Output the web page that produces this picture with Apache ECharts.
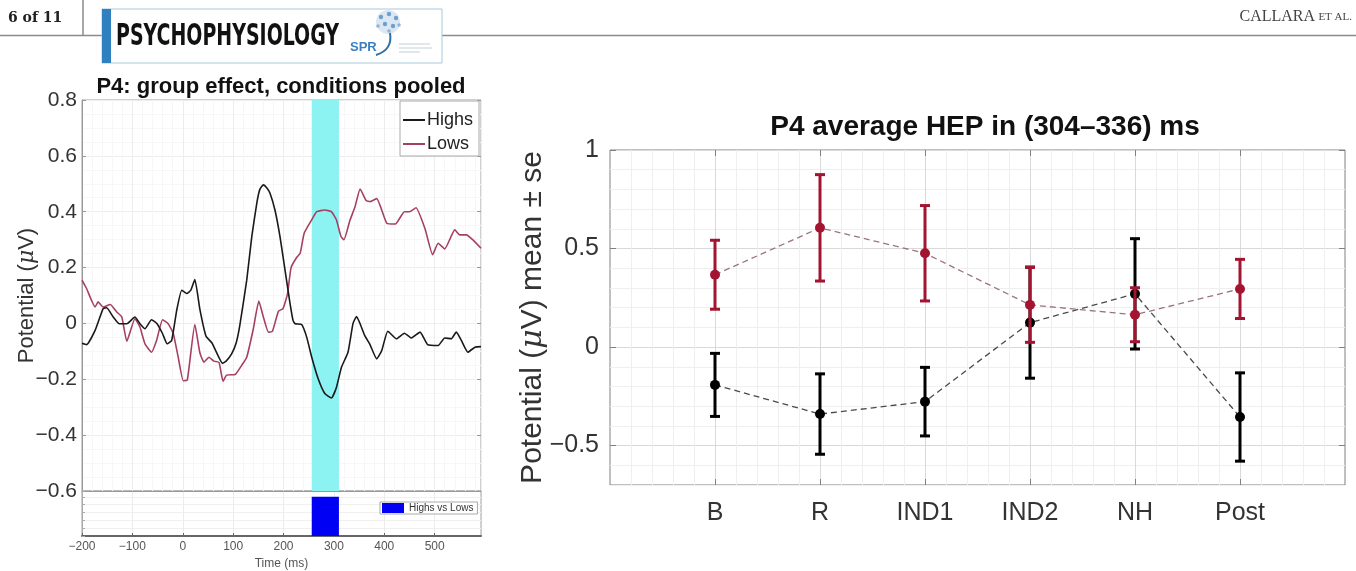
<!DOCTYPE html>
<html>
<head>
<meta charset="utf-8">
<script src="https://cdn.jsdelivr.net/npm/echarts@6.0.0/dist/echarts.min.js"></script>
<style>
  html, body { margin: 0; padding: 0; background: #fff; }
  #chart { width: 1356px; height: 571px; }
</style>
</head>
<body>
<div id="chart"></div>
<script>
// ---------------- data ----------------
// Left panel: grand-average HEP at P4 (µV), time in ms
const highsTime = [-200,-191,-174,-158,-151,-138,-126,-111,-95,-85,-75,-62,-51,-40,-31,-22,-12,-2,8,16,24,34,46,58,66,79,86,97,106,113,127,137,147,153,160,167,173,183,193,203,213,219,223,236,246,256,269,282,295,305,315,328,338,345,352,361,371,385,395,407,424,440,454,471,486,507,520,533,543,553,566,580,592];
const highsValue = [-0.071,-0.076,-0.025,0.053,0.056,0.023,-0.001,-0.001,0.023,-0.001,-0.019,0.013,-0.001,-0.037,-0.073,-0.061,0.047,0.119,0.107,0.119,0.157,0.050,-0.045,-0.070,-0.100,-0.143,-0.135,-0.109,-0.070,-0.010,0.155,0.311,0.431,0.480,0.496,0.485,0.467,0.406,0.311,0.191,0.071,0.010,-0.001,-0.004,-0.049,-0.121,-0.199,-0.251,-0.267,-0.229,-0.157,-0.103,0.000,0.025,-0.001,-0.043,-0.073,-0.127,-0.097,-0.028,-0.055,-0.035,-0.052,-0.031,-0.076,-0.079,-0.052,-0.055,-0.031,-0.061,-0.103,-0.085,-0.083];
const lowsTime = [-200,-191,-174,-168,-158,-144,-131,-121,-111,-95,-85,-75,-62,-52,-40,-29,-19,-9,1,9,24,34,42,52,62,72,80,87,104,117,127,140,151,160,170,178,190,199,208,215,226,233,241,256,266,282,295,305,314,320,332,342,352,364,372,385,405,422,440,450,463,481,496,507,520,540,550,563,576,592];
const lowsValue = [0.155,0.125,0.059,0.077,0.059,0.068,0.041,0.023,-0.064,0.017,-0.013,-0.073,-0.103,-0.061,0.013,-0.001,-0.035,-0.121,-0.205,-0.203,-0.004,-0.105,-0.139,-0.121,-0.135,-0.140,-0.207,-0.185,-0.183,-0.150,-0.121,-0.020,0.080,0.023,-0.031,-0.028,0.044,0.053,0.107,0.200,0.236,0.251,0.323,0.371,0.400,0.406,0.400,0.371,0.311,0.300,0.370,0.418,0.481,0.440,0.436,0.447,0.359,0.356,0.400,0.400,0.414,0.338,0.246,0.287,0.267,0.335,0.317,0.317,0.299,0.269];
const sigWindow = [256, 310];          // significant Highs vs Lows cluster (ms)
const timeTicks = [-200,-100,0,100,200,300,400,500];

// Right panel: P4 average HEP per condition (mean ± se)
const categories = ['B','R','IND1','IND2','NH','Post'];
const highsMean = [-0.192,-0.340,-0.277,0.124,0.270,-0.355];
const highsSe   = [0.160,0.204,0.174,0.282,0.280,0.224];
const lowsMean  = [0.367,0.605,0.476,0.214,0.164,0.295];
const lowsSe    = [0.175,0.270,0.242,0.190,0.137,0.150];
const rightYTicks = [-0.5,0,0.5,1];

// ---------------- helpers ----------------
const pairs = (t, v) => t.map((x, i) => [x, v[i]]);
const catPos = categories.map((c, i) => i + 1);
const fmtNum = v => { const r = Math.round(v * 10) / 10; return r === 0 ? '0' : String(r).replace('-', '\u2212'); };
const FONT = "'Liberation Sans', Arial, Helvetica, sans-serif";
const RED = '#a2142f';
const LOWS_LINE = '#a6405f';

function errorBarRender(color) {
  return function (params, api) {
    const x = api.value(0), lo = api.value(1), hi = api.value(2);
    const pLo = api.coord([x, lo]), pHi = api.coord([x, hi]);
    const cw = 5;
    const st = { stroke: color, lineWidth: 3 };
    return { type: 'group', children: [
      { type: 'line', shape: { x1: pLo[0], y1: pLo[1], x2: pHi[0], y2: pHi[1] }, style: st },
      { type: 'line', shape: { x1: pLo[0] - cw, y1: pLo[1], x2: pLo[0] + cw, y2: pLo[1] }, style: st },
      { type: 'line', shape: { x1: pHi[0] - cw, y1: pHi[1], x2: pHi[0] + cw, y2: pHi[1] }, style: st }
    ]};
  };
}

const chart = echarts.init(document.getElementById('chart'), null, { renderer: 'canvas' });

const option = {
  animation: false,
  backgroundColor: '#fff',
  textStyle: { fontFamily: FONT },
  grid: [
    { left: 82, top: 100, width: 399, height: 391, show: true, borderColor: '#a0a0a0', borderWidth: 1, backgroundColor: '#fff' },
    { left: 82, top: 491, width: 399, height: 47, show: true, borderColor: '#a0a0a0', borderWidth: 1, backgroundColor: '#fff' },
    { left: 610, top: 150, width: 735, height: 335, show: true, borderColor: '#808080', borderWidth: 1, backgroundColor: '#fff' }
  ],
  xAxis: [
    { // 0 left main
      type: 'value', gridIndex: 0, min: -200, max: 592, interval: 100, position: 'bottom',
      axisLine: { show: true, onZero: false, lineStyle: { color: '#999' } },
      axisTick: { show: false }, axisLabel: { show: false },
      splitLine: { show: true, lineStyle: { color: '#ededed', width: 1 } },
      minorTick: { show: false, splitNumber: 5 },
      minorSplitLine: { show: true, lineStyle: { color: '#f7f7f7', width: 1 } }
    },
    { // 1 strip
      type: 'value', gridIndex: 1, min: -200, max: 592, interval: 100, position: 'bottom',
      axisLine: { show: true, onZero: false, lineStyle: { color: '#666', width: 2 } },
      axisTick: { show: true, inside: true, length: 3, customValues: timeTicks, lineStyle: { color: '#666' } },
      axisLabel: { show: true, customValues: timeTicks, formatter: v => String(v).replace('-', '\u2212'), fontSize: 12, color: '#555', margin: 5 },
      splitLine: { show: true, lineStyle: { color: '#ececec' } },
      name: 'Time (ms)', nameLocation: 'middle', nameGap: 22, nameMoveOverlap: false,
      nameTextStyle: { fontSize: 12, color: '#555' }
    },
    { // 2 right main
      type: 'value', gridIndex: 2, min: 0, max: 7, interval: 1, position: 'bottom',
      axisLine: { show: false, onZero: false },
      axisTick: { show: true, inside: true, length: 6, customValues: catPos, lineStyle: { color: '#808080' } },
      axisLabel: { show: true, customValues: catPos, formatter: v => categories[Math.round(v) - 1] || '', fontSize: 25, color: '#333', margin: 16 },
      splitLine: { show: true, lineStyle: { color: '#d9d9d9', width: 1 } },
      minorTick: { show: false, splitNumber: 5 },
      minorSplitLine: { show: true, lineStyle: { color: '#efefef', width: 1 } }
    },
    { // 3 right top ticks
      type: 'value', gridIndex: 2, min: 0, max: 7, interval: 1, position: 'top',
      axisLine: { show: false, onZero: false },
      axisTick: { show: true, inside: true, length: 6, customValues: catPos, lineStyle: { color: '#808080' } },
      axisLabel: { show: false }, splitLine: { show: false }
    }
  ],
  yAxis: [
    { // 0 left main
      type: 'value', gridIndex: 0, min: -0.6, max: 0.8, interval: 0.2, position: 'left',
      axisLine: { show: true, onZero: false, lineStyle: { color: '#999' } },
      axisTick: { show: true, inside: true, length: 4, lineStyle: { color: '#999' } },
      axisLabel: { formatter: fmtNum, fontSize: 21, color: '#333', margin: 5 },
      splitLine: { show: true, lineStyle: { color: '#ededed' } },
      minorTick: { show: false, splitNumber: 4 },
      minorSplitLine: { show: true, lineStyle: { color: '#f7f7f7' } },
      name: '{n|Potential (}{i|\u03bc}{n|V)}', nameLocation: 'middle', nameGap: 44, nameMoveOverlap: false,
      nameTextStyle: { rich: {
        n: { fontSize: 22, color: '#333', fontFamily: FONT },
        i: { fontSize: 22, color: '#333', fontStyle: 'italic', fontFamily: "'DejaVu Serif', serif" }
      } }
    },
    { // 1 left main right ticks
      type: 'value', gridIndex: 0, min: -0.6, max: 0.8, interval: 0.2, position: 'right',
      axisLine: { show: false, onZero: false },
      axisTick: { show: true, inside: true, length: 4, lineStyle: { color: '#999' } },
      axisLabel: { show: false }, splitLine: { show: false }
    },
    { // 2 strip
      type: 'value', gridIndex: 1, min: 0, max: 1.15, interval: 0.2, position: 'left',
      axisLine: { show: true, onZero: false, lineStyle: { color: '#aaa' } },
      axisTick: { show: true, inside: true, length: 3, lineStyle: { color: '#aaa' } },
      axisLabel: { show: false },
      splitLine: { show: true, lineStyle: { color: '#f0f0f0' } }
    },
    { // 3 right main (labels + minor grid)
      type: 'value', gridIndex: 2, min: -0.7, max: 1, interval: 0.1, position: 'left',
      axisLine: { show: false, onZero: false },
      axisTick: { show: false },
      axisLabel: { customValues: rightYTicks, formatter: fmtNum, fontSize: 25, color: '#333', margin: 11 },
      splitLine: { show: true, lineStyle: { color: '#efefef', width: 1 } },
      name: '{n|Potential (}{i|\u03bc}{n|V) mean \u00b1 se}', nameLocation: 'middle', nameGap: 62, nameMoveOverlap: false,
      nameTextStyle: { rich: {
        n: { fontSize: 30, color: '#333', fontFamily: FONT },
        i: { fontSize: 30, color: '#333', fontStyle: 'italic', fontFamily: "'DejaVu Serif', serif" }
      } }
    },
    { // 4 right main: major grid + left ticks
      type: 'value', gridIndex: 2, min: -0.7, max: 1, interval: 0.1, position: 'left',
      axisLine: { show: false, onZero: false },
      axisTick: { show: true, inside: true, length: 6, customValues: rightYTicks, lineStyle: { color: '#808080' } },
      axisLabel: { show: false },
      splitLine: { show: true, lineStyle: { color: '#d9d9d9', width: 1 } }
    },
    { // 5 right main: right ticks
      type: 'value', gridIndex: 2, min: -0.7, max: 1, interval: 0.1, position: 'right',
      axisLine: { show: false, onZero: false },
      axisTick: { show: true, inside: true, length: 6, customValues: rightYTicks, lineStyle: { color: '#808080' } },
      axisLabel: { show: false }, splitLine: { show: false }
    }
  ],
  legend: [
    {
      data: ['Highs', 'Lows'], orient: 'vertical', left: 400, top: 101,
      selectedMode: false, backgroundColor: '#fff', borderColor: '#aaa', borderWidth: 1,
      padding: [10, 6, 3, 3], itemGap: 6, itemWidth: 22, itemHeight: 2, icon: 'rect',
      textStyle: { fontSize: 18, color: '#222', fontFamily: FONT, padding: [0, 0, 0, -3] }
    },
    {
      data: ['Highs vs Lows'], orient: 'horizontal', left: 380, top: 502,
      selectedMode: false, backgroundColor: '#fff', borderColor: '#aaa', borderWidth: 1,
      padding: [1, 4, 1, 2], itemGap: 0, itemWidth: 22, itemHeight: 10, icon: 'rect',
      textStyle: { fontSize: 10, color: '#333', fontFamily: FONT }
    }
  ],
  series: [
    {
      name: 'Lows', type: 'line', xAxisIndex: 0, yAxisIndex: 0,
      data: pairs(lowsTime, lowsValue), symbol: 'none', smooth: 0.15,
      lineStyle: { color: LOWS_LINE, width: 1.6 }, itemStyle: { color: LOWS_LINE },
      markArea: {
        silent: true, itemStyle: { color: '#8cf2f2' },
        data: [[{ xAxis: sigWindow[0] }, { xAxis: sigWindow[1] }]]
      }
    },
    {
      name: 'Highs', type: 'line', xAxisIndex: 0, yAxisIndex: 0,
      data: pairs(highsTime, highsValue), symbol: 'none', smooth: 0.15,
      lineStyle: { color: '#1a1a1a', width: 1.6 }, itemStyle: { color: '#1a1a1a' }
    },
    {
      name: 'Highs vs Lows', type: 'custom', xAxisIndex: 1, yAxisIndex: 2,
      itemStyle: { color: '#0000f5' },
      encode: { x: [0, 1], y: 2 },
      data: [[sigWindow[0], sigWindow[1], 1]],
      renderItem: function (params, api) {
        const p0 = api.coord([api.value(0), 0]);
        const p1 = api.coord([api.value(1), api.value(2)]);
        return { type: 'rect', shape: { x: p0[0], y: p1[1], width: p1[0] - p0[0], height: p0[1] - p1[1] },
                 style: { fill: '#0000f5' } };
      }
    },
    {
      name: 'Highs se', type: 'custom', xAxisIndex: 2, yAxisIndex: 3,
      encode: { x: 0, y: [1, 2] },
      data: categories.map((c, i) => [i + 1, highsMean[i] - highsSe[i], highsMean[i] + highsSe[i]]),
      renderItem: errorBarRender('#000'), z: 3
    },
    {
      name: 'Highs mean', type: 'line', xAxisIndex: 2, yAxisIndex: 3,
      data: categories.map((c, i) => [i + 1, highsMean[i]]),
      symbol: 'circle', symbolSize: 10, showSymbol: true,
      itemStyle: { color: '#000' },
      lineStyle: { color: '#4a4a4a', width: 1.3, type: [6, 4] }, z: 4
    },
    {
      name: 'Lows se', type: 'custom', xAxisIndex: 2, yAxisIndex: 3,
      encode: { x: 0, y: [1, 2] },
      data: categories.map((c, i) => [i + 1, lowsMean[i] - lowsSe[i], lowsMean[i] + lowsSe[i]]),
      renderItem: errorBarRender(RED), z: 5
    },
    {
      name: 'Lows mean', type: 'line', xAxisIndex: 2, yAxisIndex: 3,
      data: categories.map((c, i) => [i + 1, lowsMean[i]]),
      symbol: 'circle', symbolSize: 10, showSymbol: true,
      itemStyle: { color: RED },
      lineStyle: { color: '#9a747c', width: 1.3, type: [6, 4] }, z: 6
    }
  ],
  graphic: [
    // page header
    { type: 'line', shape: { x1: 0, y1: 35.5, x2: 1356, y2: 35.5 }, style: { stroke: '#8a8a8a', lineWidth: 1.5 }, z: 1 },
    { type: 'line', shape: { x1: 83, y1: 0, x2: 83, y2: 35 }, style: { stroke: '#8a8a8a', lineWidth: 1.5 }, z: 1 },
    { type: 'text', x: 8, y: 18, style: { text: '6 of 11', font: "bold 14px 'DejaVu Serif', serif", fill: '#222', verticalAlign: 'middle' }, z: 2 },
    { type: 'rect', shape: { x: 102, y: 9, width: 340, height: 54 }, style: { fill: '#fff', stroke: '#a9c9d9', lineWidth: 1 }, z: 2 },
    { type: 'rect', shape: { x: 102, y: 9, width: 9, height: 54 }, style: { fill: '#2f80be' }, z: 3 },
    { type: 'text', x: 116, y: 37, scaleX: 0.68, style: { text: 'PSYCHOPHYSIOLOGY', font: "bold 31px 'Liberation Sans Narrow', 'DejaVu Sans Condensed', sans-serif", fill: '#111', verticalAlign: 'middle' }, z: 3 },
    { type: 'text', x: 350, y: 47, style: { text: 'SPR', font: "bold 13px 'Liberation Sans', sans-serif", fill: '#3c7fc1', verticalAlign: 'middle' }, z: 3 },
    { type: 'circle', shape: { cx: 388, cy: 22, r: 12 }, style: { fill: '#dbe8f4' }, z: 3 },
    { type: 'circle', shape: { cx: 381, cy: 17, r: 2.2 }, style: { fill: '#6f9fcc' }, z: 4 },
    { type: 'circle', shape: { cx: 389, cy: 14, r: 2.2 }, style: { fill: '#6f9fcc' }, z: 4 },
    { type: 'circle', shape: { cx: 396, cy: 18, r: 2.2 }, style: { fill: '#6f9fcc' }, z: 4 },
    { type: 'circle', shape: { cx: 385, cy: 24, r: 2.2 }, style: { fill: '#6f9fcc' }, z: 4 },
    { type: 'circle', shape: { cx: 393, cy: 26, r: 2.2 }, style: { fill: '#6f9fcc' }, z: 4 },
    { type: 'circle', shape: { cx: 378, cy: 26, r: 1.8 }, style: { fill: '#8fb4d6' }, z: 4 },
    { type: 'circle', shape: { cx: 399, cy: 25, r: 1.8 }, style: { fill: '#8fb4d6' }, z: 4 },
    { type: 'circle', shape: { cx: 389, cy: 31, r: 1.8 }, style: { fill: '#8fb4d6' }, z: 4 },
    { type: 'bezierCurve', shape: { x1: 376, y1: 55, cpx1: 386, cpy1: 52, cpx2: 392, cpy2: 45, x2: 390, y2: 33 }, style: { stroke: '#2f6fa8', lineWidth: 2, fill: null }, z: 4 },
    { type: 'line', shape: { x1: 399, y1: 44, x2: 430, y2: 44 }, style: { stroke: '#c4cfd8', lineWidth: 1 }, z: 4 },
    { type: 'line', shape: { x1: 399, y1: 48, x2: 432, y2: 48 }, style: { stroke: '#c4cfd8', lineWidth: 1 }, z: 4 },
    { type: 'line', shape: { x1: 399, y1: 52, x2: 420, y2: 52 }, style: { stroke: '#c4cfd8', lineWidth: 1 }, z: 4 },
    { type: 'text', x: 1352, y: 17, style: {
        text: '{a|CALLARA} {b|ET AL.}', align: 'right', verticalAlign: 'middle',
        rich: { a: { font: "16px 'Liberation Serif', serif", fill: '#444' }, b: { font: "11px 'Liberation Serif', serif", fill: '#444' } }
      }, z: 2 },
    // panel titles
    { type: 'text', x: 281, y: 87, style: { text: 'P4: group effect, conditions pooled', font: "bold 22px 'Liberation Sans', Arial, sans-serif", fill: '#111', align: 'center', verticalAlign: 'middle' }, z: 5 },
    { type: 'text', x: 985, y: 127, style: { text: 'P4 average HEP in (304\u2013336) ms', font: "bold 28px 'Liberation Sans', Arial, sans-serif", fill: '#111', align: 'center', verticalAlign: 'middle' }, z: 5 }
  ]
};

chart.setOption(option);
</script>
</body>
</html>
